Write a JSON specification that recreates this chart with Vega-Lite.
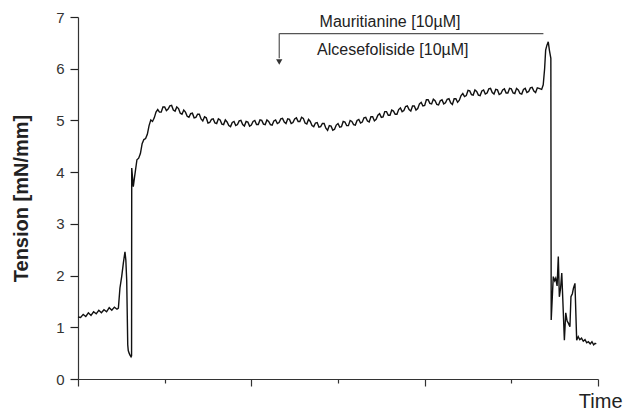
{
  "$schema": "https://vega.github.io/schema/vega-lite/v6.json",
  "width": 520,
  "height": 362,
  "autosize": "none",
  "padding": {"left": 78, "top": 17, "right": 35, "bottom": 33},
  "background": "white",
  "config": {
    "view": {"stroke": null},
    "font": "Liberation Sans"
  },
  "datasets": {
    "trace": [
      {"t":0.0,"v":1.20},{"t":0.15,"v":1.19},{"t":0.3,"v":1.25},{"t":0.45,"v":1.21},{"t":0.6,"v":1.28},{"t":0.75,"v":1.23},
      {"t":0.9,"v":1.30},{"t":1.05,"v":1.26},{"t":1.2,"v":1.33},{"t":1.35,"v":1.28},{"t":1.5,"v":1.34},{"t":1.65,"v":1.30},
      {"t":1.8,"v":1.38},{"t":1.95,"v":1.33},{"t":2.1,"v":1.39},{"t":2.25,"v":1.35},{"t":2.33,"v":1.37},
      {"t":2.42,"v":1.76},{"t":2.52,"v":1.98},{"t":2.62,"v":2.25},{"t":2.71,"v":2.46},{"t":2.76,"v":2.30},{"t":2.81,"v":1.91},
      {"t":2.87,"v":0.66},{"t":2.90,"v":0.55},{"t":2.95,"v":0.50},{"t":3.00,"v":0.46},{"t":3.06,"v":0.43},{"t":3.09,"v":0.45},
      {"t":3.10,"v":4.08},{"t":3.19,"v":3.72},{"t":3.26,"v":3.90},
      {"t":3.4,"v":4.24},{"t":3.6,"v":4.36},{"t":3.8,"v":4.63},{"t":4.0,"v":4.73},{"t":4.2,"v":5.01},{"t":4.4,"v":5.05},
      {"t":4.6,"v":5.21},{"t":4.8,"v":5.16},{"t":5.0,"v":5.26},{"t":5.2,"v":5.22},{"t":5.4,"v":5.29},{"t":5.6,"v":5.18},
      {"t":5.8,"v":5.23},{"t":6.0,"v":5.12},{"t":6.2,"v":5.16},{"t":6.4,"v":5.06},{"t":6.6,"v":5.14},{"t":6.8,"v":5.06},
      {"t":7.0,"v":5.12},{"t":7.2,"v":4.99},{"t":7.4,"v":5.05},{"t":7.6,"v":4.96},{"t":7.8,"v":5.03},{"t":8.0,"v":4.94},
      {"t":8.2,"v":5.01},{"t":8.4,"v":4.92},{"t":8.6,"v":4.97},{"t":8.8,"v":4.88},{"t":9.0,"v":4.98},{"t":9.2,"v":4.92},
      {"t":9.4,"v":5.00},{"t":9.6,"v":4.89},{"t":9.8,"v":4.97},{"t":10.0,"v":4.91},{"t":10.2,"v":5.00},{"t":10.4,"v":4.92},
      {"t":10.6,"v":5.00},{"t":10.8,"v":4.92},{"t":11.0,"v":4.98},{"t":11.2,"v":4.91},{"t":11.4,"v":5.01},{"t":11.6,"v":4.96},
      {"t":11.8,"v":5.04},{"t":12.0,"v":4.94},{"t":12.2,"v":5.02},{"t":12.4,"v":4.96},{"t":12.6,"v":5.05},{"t":12.8,"v":4.98},
      {"t":13.0,"v":5.04},{"t":13.2,"v":4.93},{"t":13.4,"v":4.98},{"t":13.6,"v":4.88},{"t":13.8,"v":4.96},{"t":14.0,"v":4.88},
      {"t":14.2,"v":4.94},{"t":14.4,"v":4.81},{"t":14.6,"v":4.89},{"t":14.8,"v":4.83},{"t":15.0,"v":4.94},{"t":15.2,"v":4.88},
      {"t":15.4,"v":4.97},{"t":15.6,"v":4.90},{"t":15.8,"v":4.98},{"t":16.0,"v":4.91},{"t":16.2,"v":5.02},{"t":16.4,"v":4.97},
      {"t":16.6,"v":5.06},{"t":16.8,"v":4.97},{"t":17.0,"v":5.07},{"t":17.2,"v":5.02},{"t":17.4,"v":5.13},{"t":17.6,"v":5.07},
      {"t":17.8,"v":5.17},{"t":18.0,"v":5.10},{"t":18.2,"v":5.18},{"t":18.4,"v":5.12},{"t":18.6,"v":5.24},{"t":18.8,"v":5.19},
      {"t":19.0,"v":5.28},{"t":19.2,"v":5.18},{"t":19.4,"v":5.28},{"t":19.6,"v":5.23},{"t":19.8,"v":5.35},{"t":20.0,"v":5.29},
      {"t":20.2,"v":5.40},{"t":20.4,"v":5.32},{"t":20.6,"v":5.38},{"t":20.8,"v":5.30},{"t":21.0,"v":5.40},{"t":21.2,"v":5.34},
      {"t":21.4,"v":5.42},{"t":21.6,"v":5.31},{"t":21.8,"v":5.42},{"t":22.0,"v":5.39},{"t":22.2,"v":5.52},{"t":22.4,"v":5.48},
      {"t":22.6,"v":5.57},{"t":22.8,"v":5.49},{"t":23.0,"v":5.56},{"t":23.2,"v":5.48},{"t":23.4,"v":5.59},{"t":23.6,"v":5.53},
      {"t":23.8,"v":5.62},{"t":24.0,"v":5.51},{"t":24.2,"v":5.59},{"t":24.4,"v":5.52},{"t":24.6,"v":5.61},{"t":24.8,"v":5.53},
      {"t":25.0,"v":5.61},{"t":25.2,"v":5.52},{"t":25.4,"v":5.59},{"t":25.6,"v":5.51},{"t":25.8,"v":5.62},{"t":26.0,"v":5.56},
      {"t":26.2,"v":5.64},{"t":26.4,"v":5.54},{"t":26.6,"v":5.62},
      {"t":3.5,"v":4.27},{"t":3.7,"v":4.55},{"t":3.9,"v":4.65},{"t":4.1,"v":4.90},{"t":4.3,"v":4.98},{"t":4.5,"v":5.16},
      {"t":4.7,"v":5.16},{"t":4.9,"v":5.26},{"t":5.1,"v":5.19},{"t":5.3,"v":5.28},{"t":5.5,"v":5.20},{"t":5.7,"v":5.26},
      {"t":5.9,"v":5.14},{"t":6.1,"v":5.20},{"t":6.3,"v":5.08},{"t":6.5,"v":5.13},{"t":6.7,"v":5.05},{"t":6.9,"v":5.12},
      {"t":7.1,"v":5.03},{"t":7.3,"v":5.07},{"t":7.5,"v":4.95},{"t":7.7,"v":5.02},{"t":7.9,"v":4.95},{"t":8.1,"v":5.03},
      {"t":8.3,"v":4.93},{"t":8.5,"v":5.01},{"t":8.7,"v":4.90},{"t":8.9,"v":4.96},{"t":9.1,"v":4.90},{"t":9.3,"v":4.99},
      {"t":9.5,"v":4.92},{"t":9.7,"v":4.98},{"t":9.9,"v":4.89},{"t":10.1,"v":4.98},{"t":10.3,"v":4.92},{"t":10.5,"v":5.01},
      {"t":10.7,"v":4.93},{"t":10.9,"v":5.01},{"t":11.1,"v":4.92},{"t":11.3,"v":4.99},{"t":11.5,"v":4.94},{"t":11.7,"v":5.03},
      {"t":11.9,"v":4.97},{"t":12.1,"v":5.03},{"t":12.3,"v":4.94},{"t":12.5,"v":5.03},{"t":12.7,"v":4.98},{"t":12.9,"v":5.06},
      {"t":13.1,"v":4.95},{"t":13.3,"v":5.02},{"t":13.5,"v":4.90},{"t":13.7,"v":4.95},{"t":13.9,"v":4.87},{"t":14.1,"v":4.94},
      {"t":14.3,"v":4.85},{"t":14.5,"v":4.90},{"t":14.7,"v":4.81},{"t":14.9,"v":4.91},{"t":15.1,"v":4.87},{"t":15.3,"v":4.98},
      {"t":15.5,"v":4.90},{"t":15.7,"v":5.00},{"t":15.9,"v":4.92},{"t":16.1,"v":5.00},{"t":16.3,"v":4.95},{"t":16.5,"v":5.05},
      {"t":16.7,"v":4.99},{"t":16.9,"v":5.07},{"t":17.1,"v":4.99},{"t":17.3,"v":5.10},{"t":17.5,"v":5.06},{"t":17.7,"v":5.17},
      {"t":17.9,"v":5.10},{"t":18.1,"v":5.20},{"t":18.3,"v":5.12},{"t":18.5,"v":5.21},{"t":18.7,"v":5.17},{"t":18.9,"v":5.27},
      {"t":19.1,"v":5.21},{"t":19.3,"v":5.28},{"t":19.5,"v":5.20},{"t":19.7,"v":5.32},{"t":19.9,"v":5.28},{"t":20.1,"v":5.40},
      {"t":20.3,"v":5.33},{"t":20.5,"v":5.41},{"t":20.7,"v":5.31},{"t":20.9,"v":5.38},{"t":21.1,"v":5.32},{"t":21.3,"v":5.41},
      {"t":21.5,"v":5.34},{"t":21.7,"v":5.42},{"t":21.9,"v":5.35},{"t":22.1,"v":5.48},{"t":22.3,"v":5.46},{"t":22.5,"v":5.58},
      {"t":22.7,"v":5.50},{"t":22.9,"v":5.59},{"t":23.1,"v":5.49},{"t":23.3,"v":5.57},{"t":23.5,"v":5.51},{"t":23.7,"v":5.61},
      {"t":23.9,"v":5.54},{"t":24.1,"v":5.60},{"t":24.3,"v":5.50},{"t":24.5,"v":5.59},{"t":24.7,"v":5.53},{"t":24.9,"v":5.62},
      {"t":25.1,"v":5.53},{"t":25.3,"v":5.62},{"t":25.5,"v":5.52},{"t":25.7,"v":5.60},{"t":25.9,"v":5.54},{"t":26.1,"v":5.63},
      {"t":26.3,"v":5.57},{"t":26.5,"v":5.63},
      {"t":26.75,"v":5.60},{"t":26.84,"v":5.69},
      {"t":26.92,"v":6.00},{"t":26.98,"v":6.36},{"t":27.05,"v":6.45},{"t":27.13,"v":6.52},{"t":27.2,"v":6.35},{"t":27.28,"v":6.20},
      {"t":27.3,"v":1.14},{"t":27.42,"v":1.98},{"t":27.5,"v":1.90},{"t":27.56,"v":1.95},{"t":27.64,"v":1.80},{"t":27.71,"v":2.37},
      {"t":27.77,"v":1.59},{"t":27.84,"v":1.75},{"t":27.91,"v":2.05},{"t":28.0,"v":1.27},{"t":28.06,"v":0.75},{"t":28.14,"v":1.28},
      {"t":28.22,"v":1.12},{"t":28.29,"v":1.08},{"t":28.38,"v":1.01},{"t":28.44,"v":1.59},{"t":28.52,"v":1.65},{"t":28.58,"v":1.75},
      {"t":28.67,"v":1.85},{"t":28.77,"v":0.75},{"t":28.86,"v":0.82},{"t":28.95,"v":0.76},{"t":29.05,"v":0.79},{"t":29.15,"v":0.73},
      {"t":29.25,"v":0.76},{"t":29.35,"v":0.70},{"t":29.44,"v":0.72},{"t":29.55,"v":0.68},{"t":29.65,"v":0.72},{"t":29.75,"v":0.66},
      {"t":29.83,"v":0.69},{"t":29.9,"v":0.68}
    ],
    "hline": [{"t": 11.61, "t2": 26.85, "v": 6.68}],
    "vline": [{"t": 11.61, "v": 6.68, "v2": 6.2}],
    "head": [{"t": 11.61, "v": 6.13}],
    "labels": [
      {"t": 18.0, "v": 6.81, "label": "Mauritianine [10µM]"},
      {"t": 18.16, "v": 6.27, "label": "Alcesefoliside [10µM]"}
    ]
  },
  "layer": [
    {
      "data": {"name": "trace"},
      "mark": {"type": "line", "color": "#111", "strokeWidth": 1.4},
      "encoding": {
        "x": {
          "field": "t", "type": "quantitative",
          "scale": {"domain": [0, 30], "nice": false, "zero": false},
          "axis": {
            "title": "Time",
            "titleFont": "Liberation Sans", "titleFontSize": 20, "titleFontWeight": "normal", "titleColor": "#222",
            "titleX": 544, "titleY": 28, "titleAlign": "right", "titleBaseline": "alphabetic", "titleAnchor": null,
            "values": [0, 5, 10, 15, 20, 25, 30],
            "labels": false,
            "grid": false,
            "domainColor": "#333", "domainWidth": 1.2,
            "tickColor": "#333", "tickWidth": 1.2,
            "tickSize": {"condition": {"test": "datum.value % 10 === 0", "value": 7}, "value": 4}
          }
        },
        "y": {
          "field": "v", "type": "quantitative",
          "scale": {"domain": [0, 7], "nice": false, "zero": false},
          "axis": {
            "title": "Tension [mN/mm]",
            "titleFont": "Liberation Sans", "titleFontSize": 20, "titleFontWeight": "bold", "titleColor": "#222",
            "titleX": -47, "titleY": 181, "titleAngle": -90, "titleAlign": "center", "titleBaseline": "bottom", "titleAnchor": null,
            "values": [0, 0.5, 1, 1.5, 2, 2.5, 3, 3.5, 4, 4.5, 5, 5.5, 6, 6.5, 7],
            "format": ".0f",
            "labelExpr": "datum.value % 1 === 0 ? datum.label : ''",
            "labelFont": "Liberation Sans", "labelFontSize": 15, "labelColor": "#333", "labelPadding": 6,
            "grid": false,
            "domainColor": "#333", "domainWidth": 1.2,
            "ticks": true,
            "tickColor": "#222", "tickWidth": 1.2,
            "tickSize": {"condition": {"test": "datum.value % 1 === 0", "value": 8}, "value": 5}
          }
        }
      }
    },
    {
      "data": {"name": "hline"},
      "mark": {"type": "rule", "color": "#555", "strokeWidth": 1.2},
      "encoding": {
        "x": {"field": "t", "type": "quantitative"},
        "x2": {"field": "t2"},
        "y": {"field": "v", "type": "quantitative"}
      }
    },
    {
      "data": {"name": "vline"},
      "mark": {"type": "rule", "color": "#555", "strokeWidth": 1.2},
      "encoding": {
        "x": {"field": "t", "type": "quantitative"},
        "y": {"field": "v", "type": "quantitative"},
        "y2": {"field": "v2"}
      }
    },
    {
      "data": {"name": "head"},
      "mark": {"type": "point", "shape": "triangle-down", "filled": true, "color": "#333", "size": 40, "opacity": 1},
      "encoding": {
        "x": {"field": "t", "type": "quantitative"},
        "y": {"field": "v", "type": "quantitative"}
      }
    },
    {
      "data": {"name": "labels"},
      "mark": {"type": "text", "font": "Liberation Sans", "fontSize": 16, "color": "#222", "align": "center", "baseline": "alphabetic"},
      "encoding": {
        "x": {"field": "t", "type": "quantitative"},
        "y": {"field": "v", "type": "quantitative"},
        "text": {"field": "label"}
      }
    }
  ]
}
